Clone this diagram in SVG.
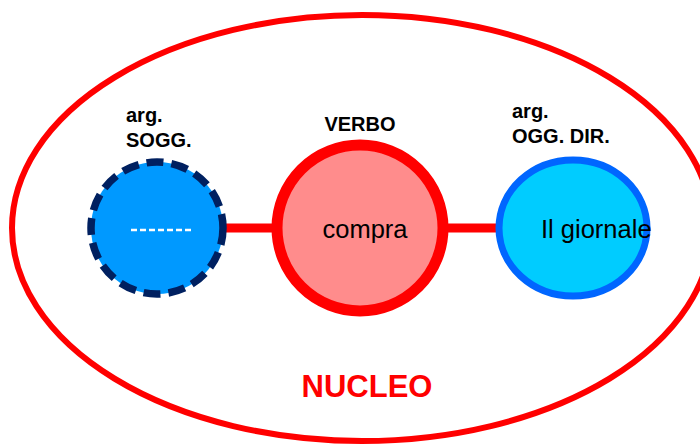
<svg xmlns="http://www.w3.org/2000/svg" width="700" height="448" viewBox="0 0 700 448">
<style>
.lbl{font-family:"Liberation Sans",Arial,sans-serif;font-weight:bold;font-size:20px;fill:#000}
.txt{font-family:"Liberation Sans",Arial,sans-serif;font-size:25.5px;fill:#000}
</style>
<rect width="700" height="448" fill="#fff"/>
<g id="nucleo">
<ellipse cx="362" cy="228" rx="350" ry="213" fill="none" stroke="#ff0000" stroke-width="6"/>
<text x="367" y="397" text-anchor="middle" style="font-family:'Liberation Sans',Arial,sans-serif;font-weight:bold;font-size:31px;fill:#ff0000">NUCLEO</text>
</g>
<g id="connectors">
<line x1="225" y1="228" x2="276" y2="228" stroke="#ff0000" stroke-width="9"/>
<line x1="444" y1="228" x2="500" y2="228" stroke="#ff0000" stroke-width="9"/>
</g>
<g id="sogg">
<circle cx="157" cy="228" r="66" fill="#0099ff" stroke="#002060" stroke-width="7.5" stroke-dasharray="17,8"/>
<line x1="131" y1="230" x2="192" y2="230" stroke="#fff" stroke-width="2.5" stroke-dasharray="6,3"/>
<text class="lbl"><tspan x="126" y="122">arg.</tspan><tspan x="126" y="147">SOGG.</tspan></text>
</g>
<g id="verbo">
<circle cx="360" cy="228" r="83" fill="#ff8c8c" stroke="#ff0000" stroke-width="11"/>
<text x="365" y="238" text-anchor="middle" class="txt">compra</text>
<text x="360" y="131" text-anchor="middle" class="lbl">VERBO</text>
</g>
<g id="oggdir">
<ellipse cx="573" cy="228" rx="74" ry="68" fill="#00ccff" stroke="#0066ff" stroke-width="7"/>
<text x="541" y="238" class="txt">Il giornale</text>
<text class="lbl"><tspan x="512" y="118">arg.</tspan><tspan x="512" y="143">OGG. DIR.</tspan></text>
</g>
</svg>
